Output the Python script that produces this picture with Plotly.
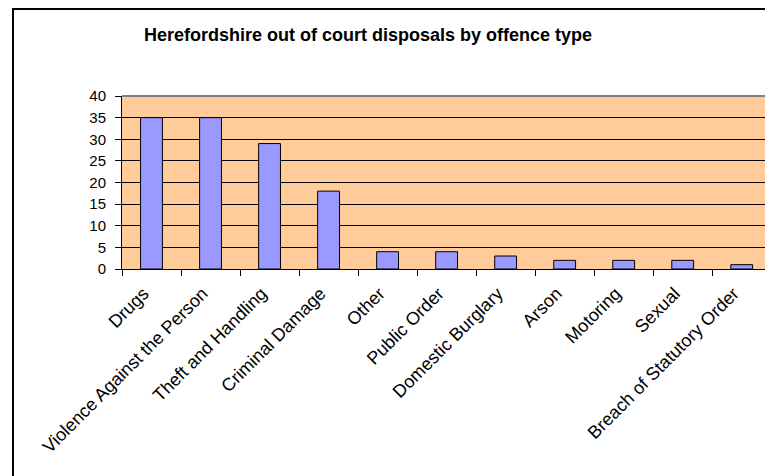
import plotly.graph_objects as go

categories = ["Drugs", "Violence Against the Person", "Theft and Handling", "Criminal Damage",
              "Other", "Public Order", "Domestic Burglary", "Arson", "Motoring", "Sexual",
              "Breach of Statutory Order"]
values = [35, 35, 29, 18, 4, 4, 3, 2, 2, 2, 1]
y_ticks = [0, 5, 10, 15, 20, 25, 30, 35, 40]

# page has an 8px body margin, so the figure is sized/offset to compensate
W, H = 765, 468
L, R, T, B = 114, 0, 88, 207
pw, ph = W - L - R, H - T - B

fig = go.Figure(go.Bar(
    x=categories, y=values,
    marker=dict(color="#9999FF", line=dict(color="black", width=1)),
))

def px2paper_x(px):
    return (px - L) / pw

def px2paper_y(py):
    return (H - B - py) / ph

fig.update_layout(
    width=W, height=H,
    margin=dict(l=L, r=R, t=T, b=B, autoexpand=False),
    paper_bgcolor="white",
    plot_bgcolor="#FFCC99",
    bargap=0.63,
    showlegend=False,
    font=dict(family="Liberation Sans, Arial, sans-serif", color="black"),
    title=dict(text="<b>Herefordshire out of court disposals by offence type</b>",
               x=360 / W, xanchor="center", y=1 - 27 / H, yanchor="middle",
               font=dict(size=18, color="black")),
    xaxis=dict(
        type="category", range=[-0.5, 10.53],
        tickangle=-45, tickfont=dict(size=18),
        ticks="outside", tickson="boundaries", ticklen=6, tickcolor="black",
        ticklabelstandoff=6, ticklabelshift=-8,
        showline=True, linecolor="black", linewidth=1,
        showgrid=False, fixedrange=True,
    ),
    yaxis=dict(
        range=[0, 40], tickvals=y_ticks, tickfont=dict(size=15),
        ticks="outside", ticklen=6, tickcolor="black",
        ticklabelstandoff=6,
        showline=True, linecolor="black", linewidth=1,
        showgrid=True, gridcolor="black", gridwidth=1,
        zeroline=False,
    ),
    shapes=[
        dict(type="line", xref="paper", yref="paper", x0=0, x1=1.01, y0=1, y1=1,
             line=dict(color="#808080", width=2)),
        dict(type="rect", xref="paper", yref="paper",
             x0=px2paper_x(5), x1=px2paper_x(W + 20),
             y0=px2paper_y(H + 20), y1=px2paper_y(1),
             line=dict(color="black", width=2), layer="above"),
    ],
)

fig.write_html("out.html")
